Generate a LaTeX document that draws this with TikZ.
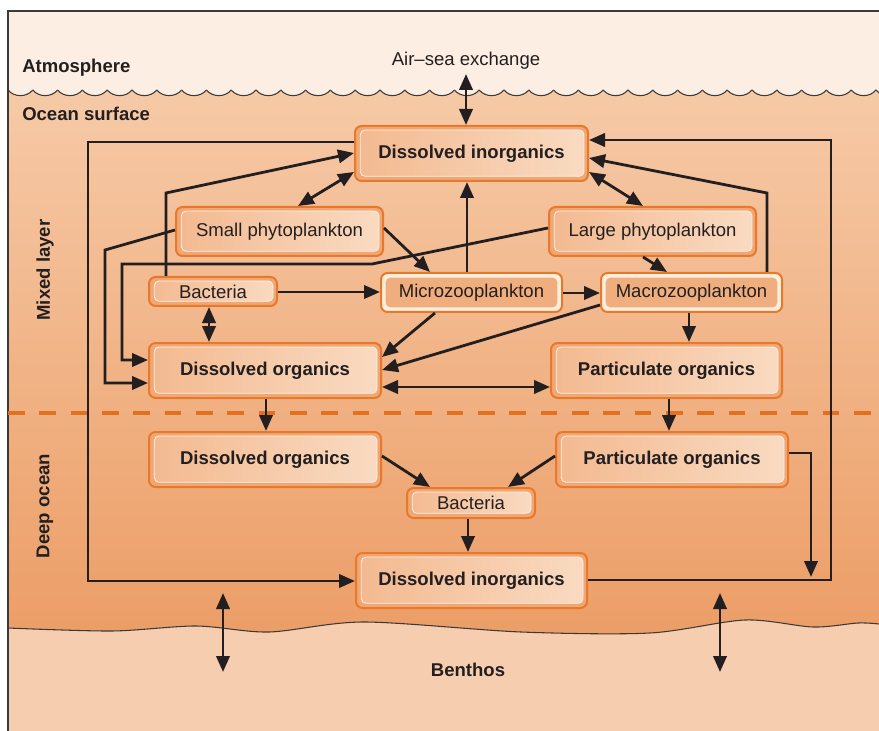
\documentclass[tikz,border=0pt]{standalone}
\usepackage{fontspec}
\setmainfont{Liberation Sans}
\usetikzlibrary{arrows.meta}
\definecolor{atm}{HTML}{FCEEE2}
\definecolor{oceantop}{HTML}{F6CAA7}
\definecolor{oceanbot}{HTML}{EC9D66}
\definecolor{benth}{HTML}{F6CDAE}
\definecolor{orangec}{HTML}{E8782A}
\definecolor{dashc}{HTML}{E2701F}
\definecolor{boxedge}{HTML}{EFA875}
\definecolor{innerl}{HTML}{F3B98F}
\definecolor{innerr}{HTML}{F9DBC2}
\definecolor{zooband}{HTML}{FDEEDD}
\definecolor{zooin}{HTML}{F0AE7F}
\definecolor{textc}{HTML}{231F20}
\definecolor{linec}{HTML}{231F20}
\definecolor{framec}{HTML}{3A3A3A}
\newcommand\myfs{\fontsize{13.9pt}{16pt}\selectfont}
\tikzset{
  lab/.style={inner sep=0pt, text=textc, font=\myfs},
  sz/.style 2 args={minimum width={#1*0.75pt}, minimum height={#2*0.75pt}},
  boxa/.style={draw=orangec, line width=1.5pt, rounded corners=5pt, fill=boxedge,
    inner sep=0pt, text=textc, font=\myfs,
    path picture={\shade[left color=innerl, right color=innerr, rounded corners=3.5pt,
      draw=white!60!innerr, line width=0.6pt]
      ([shift={(4pt,-3pt)}]path picture bounding box.north west) rectangle
      ([shift={(-3pt,3.5pt)}]path picture bounding box.south east);}},
  zoo/.style={draw=orangec, line width=1.5pt, rounded corners=5pt, fill=zooband,
    inner sep=0pt, text=textc, font=\myfs,
    path picture={\fill[zooin, rounded corners=3.5pt]
      ([shift={(3.5pt,-3.5pt)}]path picture bounding box.north west) rectangle
      ([shift={(-3.5pt,3.5pt)}]path picture bounding box.south east);}},
  conn/.style={draw=linec, line width=2.1pt, -{Triangle[length=12pt,width=10pt]}},
  dbl/.style={draw=linec, line width=2.1pt, {Triangle[length=12pt,width=10pt]}-{Triangle[length=12pt,width=10pt]}},
  wavel/.style={draw=framec, line width=0.8pt}
}
\begin{document}
\begin{tikzpicture}[x=0.75pt,y=-0.75pt]
\useasboundingbox (0,0) rectangle (879,731);
\fill[white] (0,0) rectangle (879,731);
% ocean gradient
\shade[top color=oceantop, bottom color=oceanbot] (8,88) rectangle (879,640);
% atmosphere
\fill[atm] (8,11) rectangle (879,90);
\foreach \i in {0,...,35}{
  \fill[atm] ({8+\i*24.8},90) .. controls ({14+\i*24.8},97.5) and ({26.8+\i*24.8},97.5) .. ({32.8+\i*24.8},90) -- cycle;
  \draw[wavel] ({8+\i*24.8},90) .. controls ({14+\i*24.8},97.5) and ({26.8+\i*24.8},97.5) .. ({32.8+\i*24.8},90);
}
% benthos
\fill[benth] plot[smooth] coordinates {(8,628) (112,631) (196,626) (269,632) (364,622) (521,632) (650,633) (745,620) (813,627) (858,623) (879,624)} -- (879,731) -- (8,731) -- cycle;
\draw[wavel] plot[smooth] coordinates {(8,628) (112,631) (196,626) (269,632) (364,622) (521,632) (650,633) (745,620) (813,627) (858,623) (879,624)};
% frame
\draw[framec, line width=0.9pt] (8,731) -- (8,11) -- (879,11);
% mixed layer boundary
\draw[dashc, line width=2.4pt, dash pattern=on 12.5pt off 11pt] (8,413) -- (879,413);

% labels
\node[lab, anchor=west, font=\myfs\bfseries] (atmo) at (22,68) {Atmosphere};
\node[lab, anchor=west, font=\myfs\bfseries] (ocs) at (22,114) {Ocean surface};
\node[lab] (airsea) at (466,61) {Air–sea exchange};
\node[lab, rotate=90, font=\myfs\bfseries] (mixed) at (45,270) {Mixed layer};
\node[lab, rotate=90, font=\myfs\bfseries] (deep) at (45,506) {Deep ocean};
\node[lab, font=\myfs\bfseries] (benthos) at (468,670) {Benthos};

% boxes
\node[boxa, font=\myfs\bfseries, sz={233}{55}] (dit) at (471.5,153.5) {Dissolved inorganics};
\node[boxa, sz={207}{49}] (sp) at (279.5,231.5) {Small phytoplankton};
\node[boxa, sz={207}{49}] (lp) at (652.5,231.5) {Large phytoplankton};
\node[boxa, sz={128}{29}] (bac) at (213,291.5) {Bacteria};
\node[zoo, sz={181}{39}] (mic) at (471.5,292.5) {Microzooplankton};
\node[zoo, sz={181}{39}] (mac) at (691.5,292.5) {Macrozooplankton};
\node[boxa, font=\myfs\bfseries, sz={232}{55}] (dou) at (265,370.5) {Dissolved organics};
\node[boxa, font=\myfs\bfseries, sz={231}{55}] (pou) at (666.5,370.5) {Particulate organics};
\node[boxa, font=\myfs\bfseries, sz={232}{55}] (dol) at (265,459.5) {Dissolved organics};
\node[boxa, font=\myfs\bfseries, sz={232}{55}] (pol) at (672,459.5) {Particulate organics};
\node[boxa, sz={128}{30}] (bacl) at (471,503) {Bacteria};
\node[boxa, font=\myfs\bfseries, sz={231}{55}] (dib) at (471.5,580.5) {Dissolved inorganics};

% free ends
\coordinate (airtop) at (466,74);
\coordinate (pend) at (811,577);
\coordinate (b1t) at (223,593);
\coordinate (b1b) at (223,672);
\coordinate (b2t) at (720,593);
\coordinate (b2b) at (720,672);

% connectors
\draw[dbl] (airtop) -- (dit.north -| airtop);
\draw[conn] (dit.west |- 0,142) -- (88,142) -- (88,581) -- (dib.west |- 0,581);
\draw[conn] (dib.east |- 0,580) -- (831,580) -- (831,140) -- (dit.east |- 0,140);
\draw[conn] (bac.north -| 166,0) -- (166,193) -- (dit.west |- 0,153);
\draw[dbl] (sp.north -| 298,0) -- (dit.west |- 0,172);
\draw[dbl] (dit.east |- 0,172) -- (lp.north -| 643,0);
\draw[conn] (mac.north -| 767,0) -- (767,193) -- (dit.east |- 0,158);
\draw[conn] (mic.north -| 467,0) -- (dit.south -| 467,0);
\draw[conn] (sp.east |- 0,228) -- (mic.north -| 430,0);
\draw[conn] (lp.south -| 643,0) -- (mac.north -| 667,0);
\draw[conn] (sp.west |- 0,230) -- (105,250) -- (105,383) -- (dou.west |- 0,383);
\draw[conn] (lp.west |- 0,228) -- (372,264) -- (122,264) -- (122,360) -- (dou.west |- 0,360);
\draw[conn] (bac.east |- 0,292) -- (mic.west |- 0,292);
\draw[dbl] (bac.south -| 209,0) -- (dou.north -| 209,0);
\draw[conn] (mic.east |- 0,293) -- (mac.west |- 0,293);
\draw[conn] (mic.south -| 435,0) -- (dou.east |- 0,357);
\draw[conn] (mac.west |- 0,305) -- (dou.east |- 0,370);
\draw[dbl] (dou.east |- 0,387) -- (pou.west |- 0,387);
\draw[conn] (mac.south -| 689,0) -- (pou.north -| 689,0);
\draw[conn] (dou.south -| 266,0) -- (dol.north -| 266,0);
\draw[conn] (pou.south -| 669,0) -- (pol.north -| 669,0);
\draw[conn] (dol.east |- 0,456) -- (bacl.north -| 430,0);
\draw[conn] (pol.west |- 0,456) -- (bacl.north -| 508,0);
\draw[conn] (bacl.south -| 468,0) -- (dib.north -| 468,0);
\draw[conn] (pol.east |- 0,453) -- (811,453) -- (pend);
\draw[dbl] (b1t) -- (b1b);
\draw[dbl] (b2t) -- (b2b);
\end{tikzpicture}
\end{document}
